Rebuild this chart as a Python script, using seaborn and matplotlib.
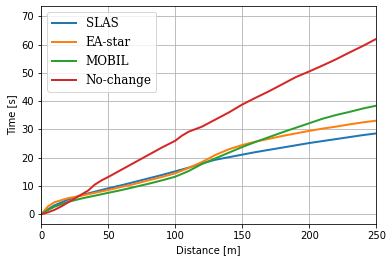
import pandas as pd
import matplotlib
matplotlib.use('Agg')
import matplotlib.pyplot as plt
import seaborn as sns

# Данные
x_base = [0, 5, 10, 20, 30, 40, 50, 60, 70, 80, 90, 100, 110, 120, 130,
          140, 150, 160, 170, 180, 190, 200, 210, 220, 230, 240, 250]
slas = [0, 1.8, 3.2, 5.2, 6.8, 8.0, 9.2, 10.3, 11.5, 12.7, 13.9, 15.2, 16.5,
        18.0, 19.3, 20.2, 21.1, 22.0, 22.8, 23.6, 24.4, 25.2, 25.9, 26.6,
        27.3, 28.0, 28.6]
ea_star = [0, 2.8, 4.3, 5.7, 6.6, 7.6, 8.6, 9.7, 10.8, 12.0, 13.2, 14.5,
           16.4, 18.5, 21.0, 23.0, 24.5, 25.7, 26.7, 27.7, 28.6, 29.5, 30.3,
           31.0, 31.8, 32.5, 33.1]
mobil = [0, 1.5, 2.7, 4.4, 5.6, 6.6, 7.6, 8.6, 9.7, 10.8, 12.0, 13.3, 15.3,
         17.8, 19.8, 21.8, 23.8, 25.6, 27.3, 29.0, 30.6, 32.2, 33.8, 35.1,
         36.2, 37.4, 38.4]

x_nochange = [0, 5, 10, 15, 20, 25, 30, 35, 40, 45, 50, 60, 70, 80, 90, 100,
              105, 110, 120, 130, 140, 150, 160, 170, 180, 190, 200, 210,
              220, 230, 240, 250]
no_change = [0, 0.7, 1.6, 2.8, 4.2, 5.6, 7.0, 8.4, 10.5, 12.0, 13.2, 15.8,
             18.4, 21.0, 23.6, 26.0, 27.8, 29.2, 31.0, 33.5, 36.0, 38.8,
             41.2, 43.5, 46.0, 48.5, 50.5, 52.6, 54.8, 57.2, 59.5, 62.0]

labels = ['SLAS', 'EA-star', 'MOBIL', 'No-change']

frames = [
    pd.DataFrame({'dist': x_base, 'time': slas, 'method': 'SLAS'}),
    pd.DataFrame({'dist': x_base, 'time': ea_star, 'method': 'EA-star'}),
    pd.DataFrame({'dist': x_base, 'time': mobil, 'method': 'MOBIL'}),
    pd.DataFrame({'dist': x_nochange, 'time': no_change, 'method': 'No-change'}),
]
df = pd.concat(frames, ignore_index=True)

fig = plt.figure(figsize=(392 / 72, 262 / 72), dpi=72)
ax = fig.add_subplot(111)
fig.subplots_adjust(left=0.105, right=0.96, top=0.977, bottom=0.144)

sns.lineplot(data=df, x='dist', y='time', hue='method', hue_order=labels,
             palette=['#1f77b4', '#ff7f0e', '#2ca02c', '#d62728'],
             linewidth=2, ax=ax, sort=False, estimator=None)

ax.set_xlim(0, 250)
ax.set_ylim(-3.5, 73.6)
ax.set_xlabel('Distance [m]')
ax.set_ylabel('Time [s]')
ax.grid(True)
ax.legend(loc='upper left', prop={'family': 'DejaVu Serif', 'size': 12})

fig.savefig('out.png', dpi=72)
